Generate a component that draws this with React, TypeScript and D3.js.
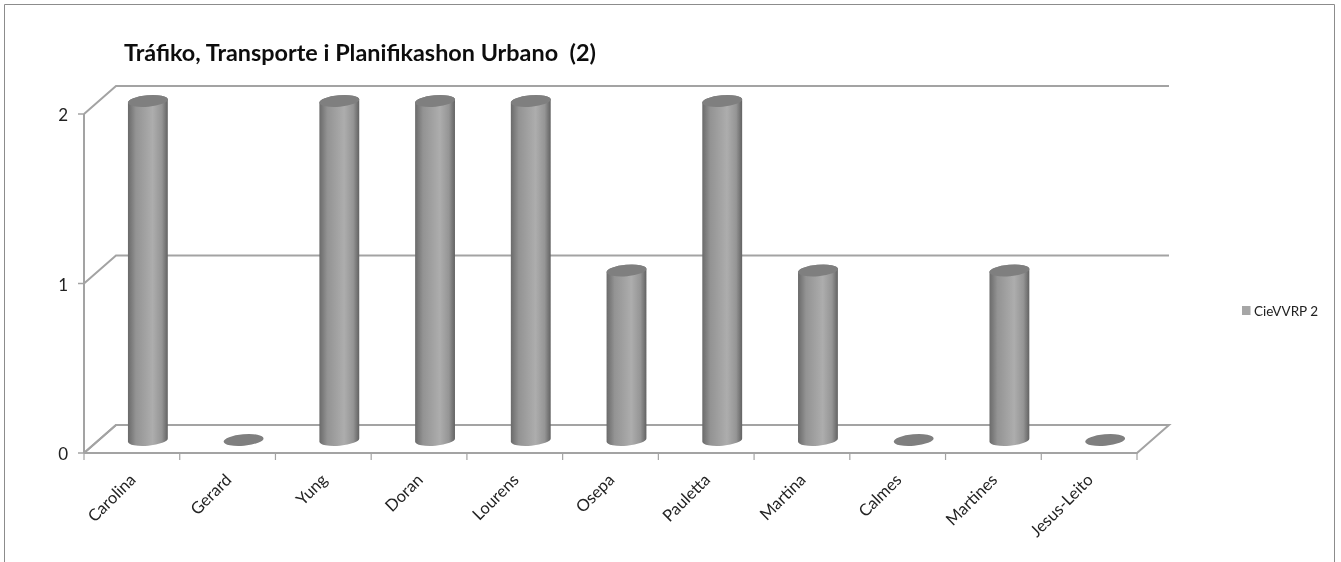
import React from "react";
import * as d3 from "d3";

const categories = ["Carolina", "Gerard", "Yung", "Doran", "Lourens", "Osepa", "Pauletta", "Martina", "Calmes", "Martines", "Jesus-Leito"];
const values = [2, 0, 2, 2, 2, 1, 2, 1, 0, 1, 0];
const yTicks = [0, 1, 2];
const titleText = "Tráfiko, Transporte i Planifikashon Urbano  (2)";
const seriesName = "CieVVRP 2";

const width = 1341;
const height = 562;
const font = "Lato, 'Open Sans', sans-serif";
// depth of the 3d floor
const depthX = 32;
const depthY = -28;
const rx = 20;
const ry = 5.8;
const tilt = -5;

const x = d3.scaleBand().domain(categories).range([84, 1137]);
const y = d3.scaleLinear().domain([0, 2]).range([453, 114]);

function cylinder(cx: number, top: number, bottom: number) {
  const a = (tilt * Math.PI) / 180;
  const dx = rx * Math.cos(a);
  const dy = rx * Math.sin(a);
  const p = `M${cx - dx},${top - dy}L${cx - dx},${bottom - dy}`;
  return `${p}A${rx},${ry} ${tilt} 0 0 ${cx + dx},${bottom + dy}L${cx + dx},${top + dy}A${rx},${ry} ${tilt} 0 0 ${cx - dx},${top - dy}Z`;
}

export default function App() {
  const gridColor = "#a3a3a3";
  const y0 = y(0);
  const right = x.range()[1];
  const left = x.range()[0];
  const floor = d3.line()([
    [left, y0],
    [left + depthX, y0 + depthY],
    [right + depthX, y0 + depthY],
    [right, y0],
    [left, y0],
  ]);

  return (
    <svg width={width} height={height} style={{ position: "absolute", left: 0, top: 0 }}>
      <defs>
        <linearGradient id="cyl" x1="0" x2="1" y1="0" y2="0">
          <stop offset="0" stopColor="#6a6a6a" />
          <stop offset="0.2" stopColor="#939393" />
          <stop offset="0.62" stopColor="#adadad" />
          <stop offset="0.85" stopColor="#959595" />
          <stop offset="1" stopColor="#626262" />
        </linearGradient>
        <filter id="soft" x="0" y="0" width="100%" height="100%">
          <feGaussianBlur stdDeviation="0.35" />
        </filter>
      </defs>
      <rect width={width} height={height} fill="#fff" />
      <g filter="url(#soft)">
        <path d={`M4.5,${height}V4.5H1334.5V${height}`} fill="none" stroke="#8c8c8c" strokeWidth={1} />

        <text x={124} y={61} fontFamily={font} fontSize={23.4} fontWeight={700} fill="#111" style={{ whiteSpace: "pre" }}>
          {titleText}
        </text>

        {/* back wall gridlines and their side-wall links */}
        {yTicks.map((t) => (
          <g key={t} fill="none" stroke={gridColor} strokeWidth={2}>
            <path d={`M${left},${y(t)}L${left + depthX},${y(t) + depthY}L${right + depthX},${y(t) + depthY}`} />
          </g>
        ))}
        <path d={floor ?? ""} fill="none" stroke={gridColor} strokeWidth={2} />
        <path d={`M${left},${y(2)}V${y0}`} stroke={gridColor} strokeWidth={2} />
        {yTicks.map((t) => (
          <g key={t}>
            <line x1={left - 6} x2={left} y1={y(t)} y2={y(t)} stroke={gridColor} strokeWidth={1.5} />
            <text x={68} y={y(t) + 7} textAnchor="end" fontFamily={font} fontSize={17} fill="#222">
              {t}
            </text>
          </g>
        ))}
        {[...categories.map((c) => x(c) as number), right].map((tx) => (
          <line key={tx} x1={tx} x2={tx} y1={y0} y2={y0 + 7} stroke={gridColor} strokeWidth={1.2} />
        ))}

        {categories.map((c, i) => {
          const cx = (x(c) as number) + x.bandwidth() / 2 + 16;
          const base = y0 - 13;
          const top = base - (y0 - y(values[i]));
          return (
            <g key={c}>
              {values[i] > 0 && <path d={cylinder(cx, top, base)} fill="url(#cyl)" />}
              <ellipse cx={cx} cy={top} rx={rx} ry={ry} transform={`rotate(${tilt} ${cx} ${top})`} fill="#7f7f7f" />
            </g>
          );
        })}

        {categories.map((c) => {
          const tx = (x(c) as number) + x.bandwidth() / 2 + 2;
          return (
            <text
              key={c}
              transform={`translate(${tx},${y0 + 25}) rotate(-45)`}
              textAnchor="end"
              dominantBaseline="middle"
              fontFamily={font}
              fontSize={16.5}
              fill="#222"
            >
              {c}
            </text>
          );
        })}

        <rect x={1242} y={306} width={8.5} height={9} fill="#a6a6a6" />
        <text x={1254} y={316} fontFamily={font} fontSize={13.5} fill="#222">
          {seriesName}
        </text>
      </g>
    </svg>
  );
}
